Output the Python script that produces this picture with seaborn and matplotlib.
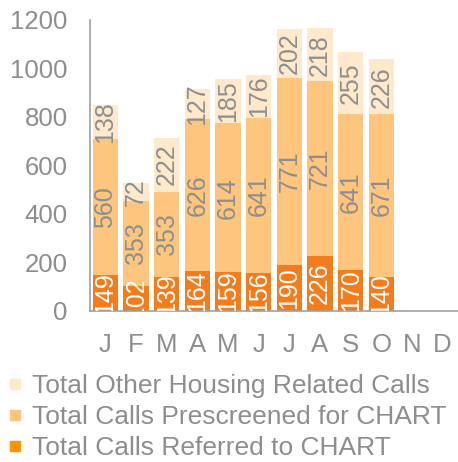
import pandas as pd
import numpy as np
import seaborn as sns
import matplotlib.pyplot as plt
from matplotlib.lines import Line2D

# Monatsdaten (N, D ohne Werte)
months = ['J', 'F', 'M', 'A', 'M ', 'J ', 'J  ', 'A ', 'S', 'O', 'N', 'D']
month_labels = ['J', 'F', 'M', 'A', 'M', 'J', 'J', 'A', 'S', 'O', 'N', 'D']
referred = [149, 102, 139, 164, 159, 156, 190, 226, 170, 140]
prescreened = [560, 353, 353, 626, 614, 641, 771, 721, 641, 671]
other = [138, 72, 222, 127, 185, 176, 202, 218, 255, 226]

series_names = ['Total Other Housing Related Calls',
                'Total Calls Prescreened for CHART',
                'Total Calls Referred to CHART']

c_other = '#FEE9CC'
c_pre = '#FDC57D'
c_ref = '#F47C1C'
c_ref_legend = '#FF9300'
grey = '#8E8E8E'

sns.set_style('white')
plt.rcParams['font.family'] = ['Liberation Sans', 'DejaVu Sans']

df = pd.DataFrame({'month': months[:len(referred)],
                   'referred': referred,
                   'prescreened': prescreened,
                   'other': other})
df['cum_pre'] = df['referred'] + df['prescreened']
df['cum_all'] = df['cum_pre'] + df['other']

fig = plt.figure(figsize=(4.58, 4.62), dpi=100)
ax = fig.add_axes([0.1965, 0.327, 0.8035, 0.63])

# gestapelt: groesste Summe zuerst zeichnen
for col, color in [('cum_all', c_other), ('cum_pre', c_pre), ('referred', c_ref)]:
    sns.barplot(data=df, x='month', y=col, order=months, color=color,
                saturation=1, width=0.83, linewidth=0, ax=ax)

fs = 18
for i, row in df.iterrows():
    ax.text(i, row['referred'] / 2, str(row['referred']), rotation=90,
            ha='center', va='center', color='white', fontsize=fs, clip_on=True)
    ax.text(i, row['referred'] + row['prescreened'] / 2, str(row['prescreened']),
            rotation=90, ha='center', va='center', color=grey, fontsize=fs, clip_on=True)
    ax.text(i, row['cum_pre'] + row['other'] / 2, str(row['other']), rotation=90,
            ha='center', va='center', color=grey, fontsize=fs, clip_on=True)

ax.set_ylim(0, 1200)
ax.set_yticks(range(0, 1201, 200))
ax.set_xlim(-0.5, 11.5)
ax.set_xticks(range(12))
ax.set_xticklabels(month_labels)
ax.set_xlabel('')
ax.set_ylabel('')
ax.tick_params(axis='both', colors=grey, labelsize=18.5)
ax.tick_params(axis='y', length=6, width=1, pad=10)
ax.tick_params(axis='x', length=0, pad=16)
sns.despine(ax=ax)
for s in ['left', 'bottom']:
    ax.spines[s].set_color('#A0A0A0')
    ax.spines[s].set_linewidth(1.2)

handles = [Line2D([], [], marker='s', linestyle='', markersize=7.5, color=c)
           for c in [c_other, c_pre, c_ref_legend]]
fig.legend(handles, series_names, loc='lower left', bbox_to_anchor=(-0.03, -0.03),
           frameon=False, fontsize=19, labelcolor=grey, handletextpad=0.15,
           labelspacing=0.26, handlelength=1.0, borderaxespad=0.2)

fig.savefig('out.png', dpi=100)
plt.close()
